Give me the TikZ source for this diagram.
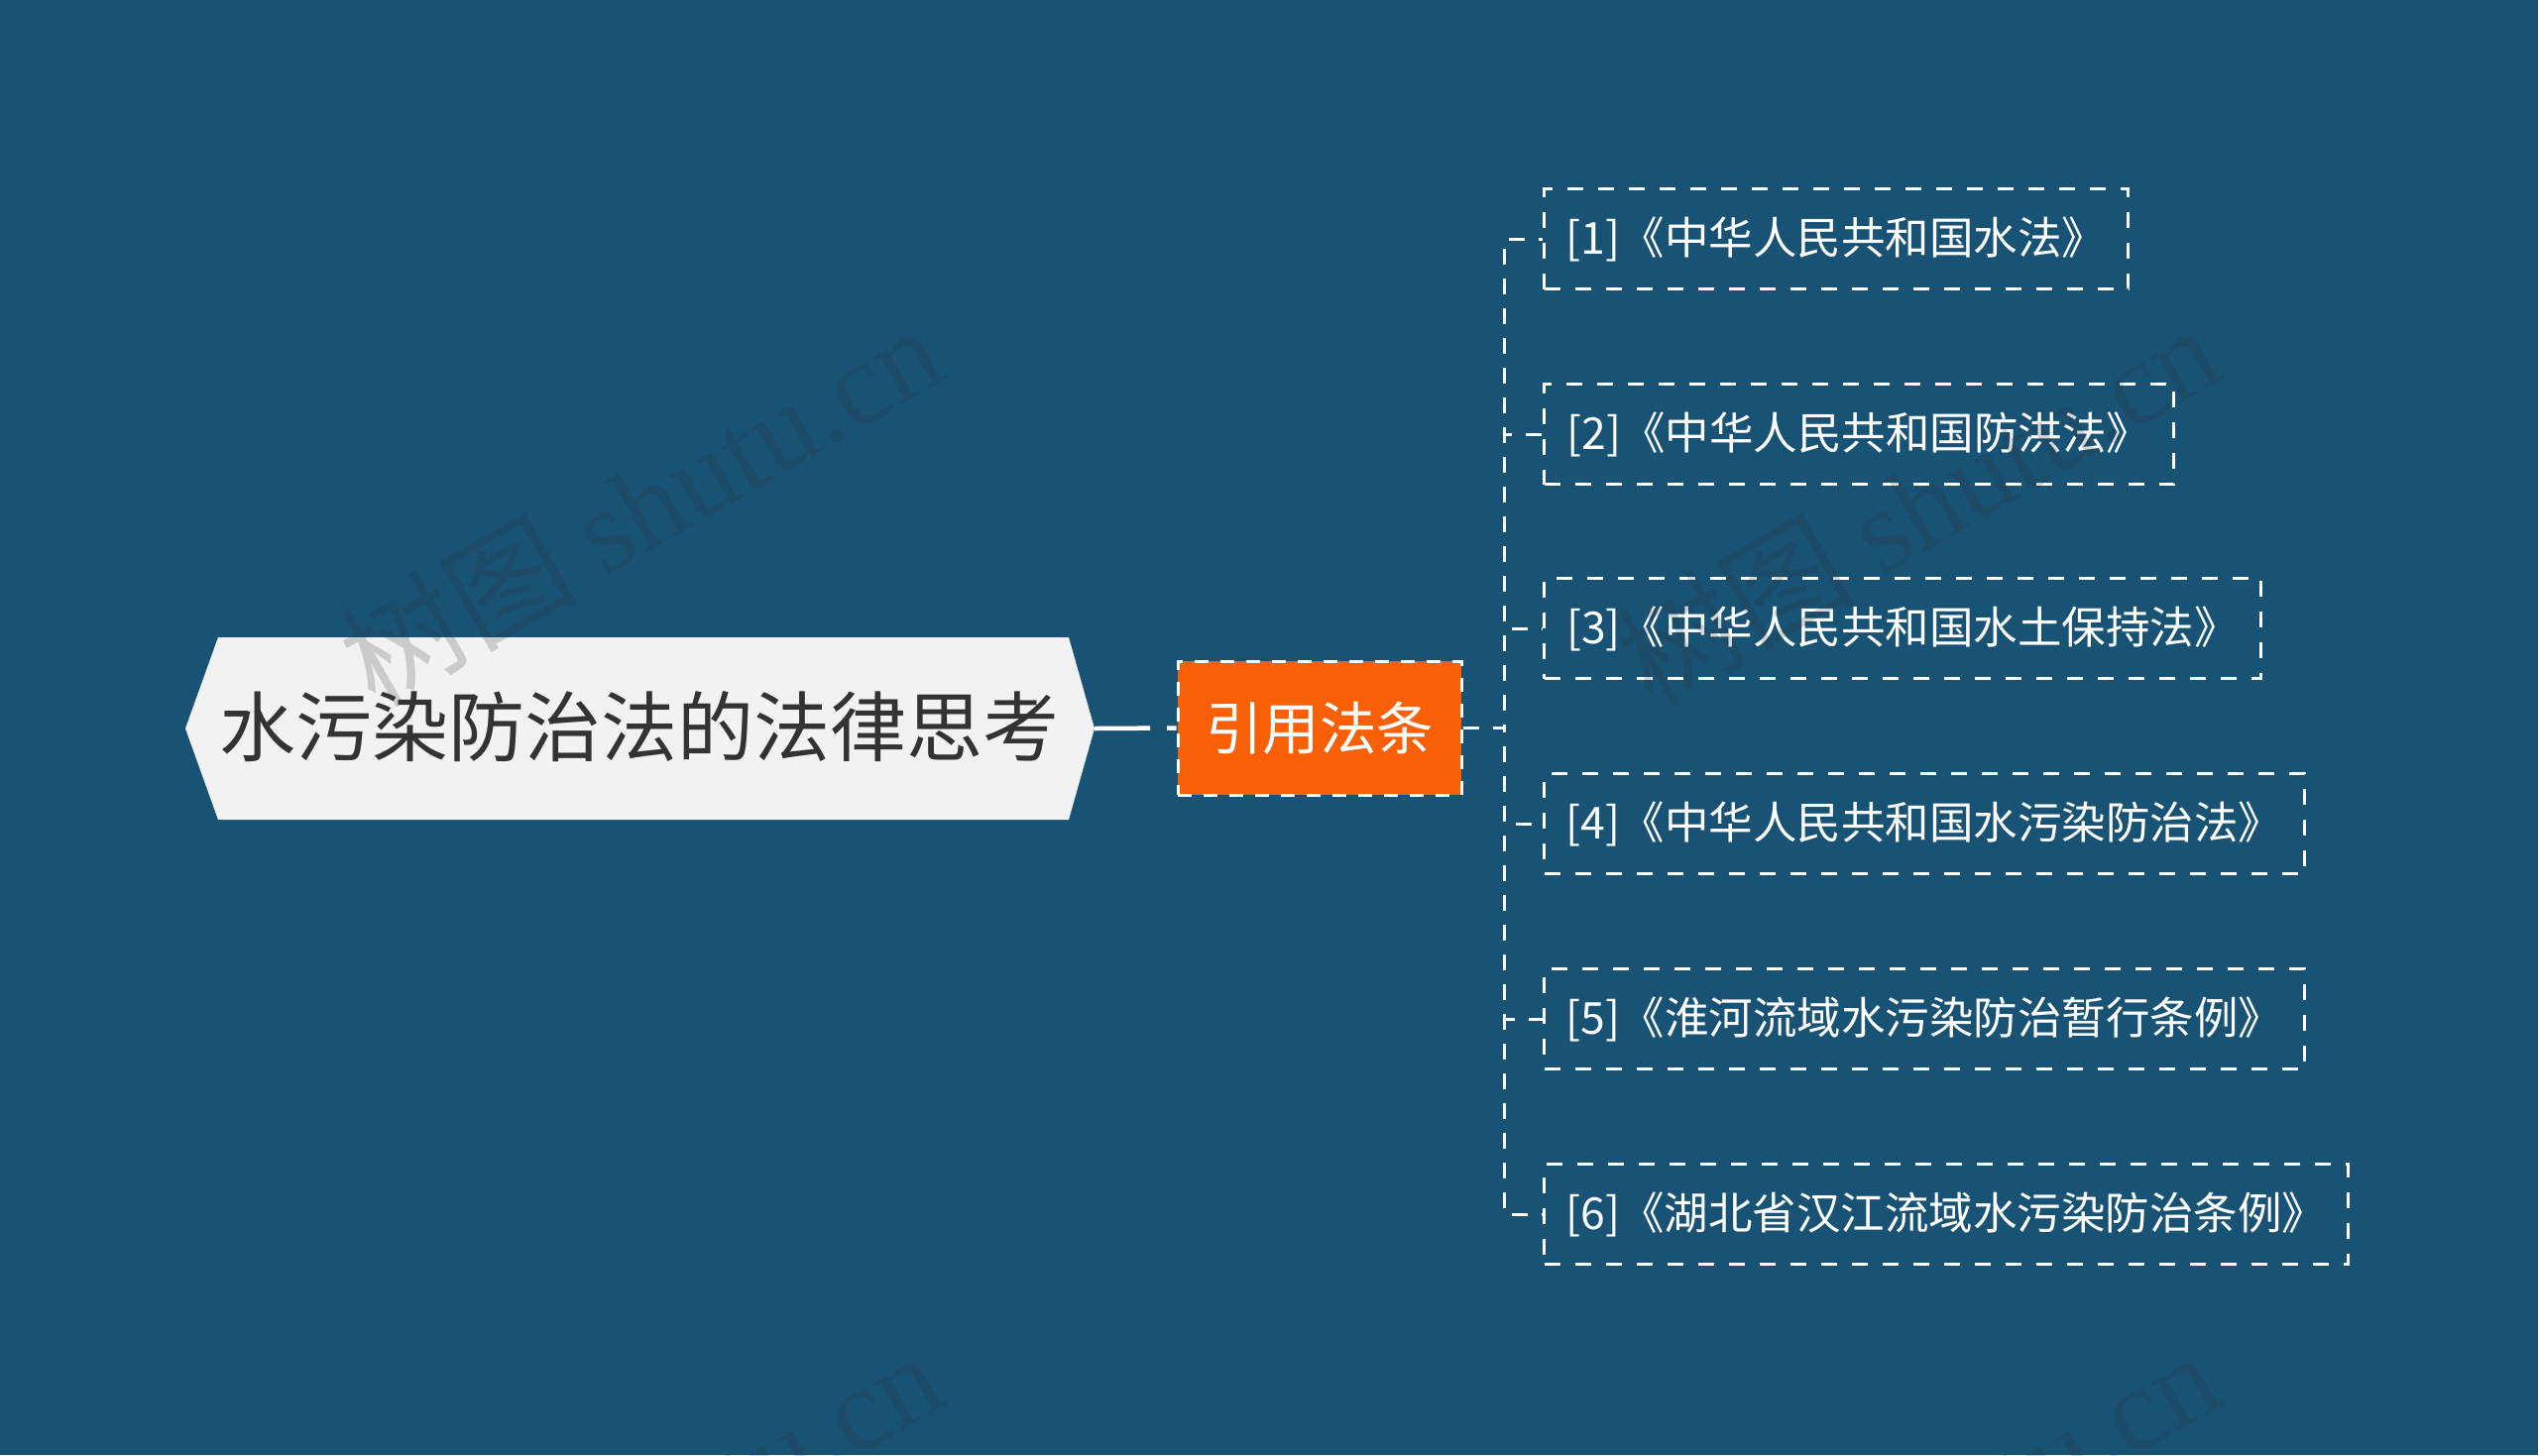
\documentclass[tikz,border=0pt]{standalone}
\usepackage{fontspec}
\setmainfont{Noto Sans CJK SC}
\newfontfamily\wmserif{Liberation Serif}
\usetikzlibrary{calc}
\definecolor{bgblue}{RGB}{24,83,118}
\definecolor{catorange}{RGB}{249,96,6}
\definecolor{rootfill}{RGB}{242,242,242}
\definecolor{roottext}{RGB}{51,51,51}
\definecolor{wmgray}{RGB}{47,47,47}
\tikzset{
  roottxt/.style={inner sep=0pt, text=roottext, font=\fontsize{77}{88}\selectfont},
  catbox/.style={fill=catorange, draw=white, line width=3pt, dash pattern=on 14pt off 12pt,
     minimum width=286pt, minimum height=135pt, inner sep=0pt, text=white,
     font=\fontsize{57.5}{66}\selectfont},
  lawbox/.style={draw=white, line width=3pt, dash pattern=on 16pt off 15pt,
     minimum height=101pt, inner sep=0pt, text=white, anchor=west,
     font=\fontsize{44.5}{52}\selectfont},
  rootline/.style={draw=white, line width=4.5pt, dash pattern=on 56pt off 17pt on 12pt off 30pt},
  conn/.style={draw=white, line width=3pt, dash pattern=on 16pt off 14pt},
  wm/.style={anchor=base west, rotate=30, text=wmgray, text opacity=0.2, inner sep=0pt,
     font=\fontsize{120}{130}\selectfont}
}
\begin{document}
\begin{tikzpicture}[x=1pt,y=-1pt]
\useasboundingbox (0,0) rectangle (2560,1468);
\clip (0,0) rectangle (2560,1468);
\fill[bgblue] (0,0) rectangle (2560,1468);

% root
\fill[rootfill] (187,735) -- (220,643) -- (1078,643) -- (1104,735) -- (1078,827) -- (220,827) -- cycle;
\node[roottxt] (root) at (645,733) {水污染防治法的法律思考};
\coordinate (roottip) at (1104,735);

% category
\node[catbox] (cat) at (1331,734.5) {引用法条};
\draw[rootline] (roottip) -- (cat.west);

% laws
\node[lawbox, minimum width=589pt] (c1) at (1556,241) {[1]《中华人民共和国水法》};
\node[lawbox, minimum width=635pt] (c2) at (1556,438) {[2]《中华人民共和国防洪法》};
\node[lawbox, minimum width=723pt] (c3) at (1556,634) {[3]《中华人民共和国水土保持法》};
\node[lawbox, minimum width=767pt] (c4) at (1556,831) {[4]《中华人民共和国水污染防治法》};
\node[lawbox, minimum width=767pt] (c5) at (1556,1028) {[5]《淮河流域水污染防治暂行条例》};
\node[lawbox, minimum width=811pt] (c6) at (1556,1225) {[6]《湖北省汉江流域水污染防治条例》};

\foreach \c in {c1,c2,c3,c4,c5,c6}
  \draw[conn] (cat.east) -- ++(42,0) |- (\c.west);

% watermarks
\node[wm] (wm1) at (378,716) {树图 {\wmserif shutu.cn}};
\node[wm] (wm2) at (1666,716) {树图 {\wmserif shutu.cn}};
\node[wm] (wm3) at (378,1751) {树图 {\wmserif shutu.cn}};
\node[wm] (wm4) at (1666,1751) {树图 {\wmserif shutu.cn}};
\end{tikzpicture}
\end{document}
